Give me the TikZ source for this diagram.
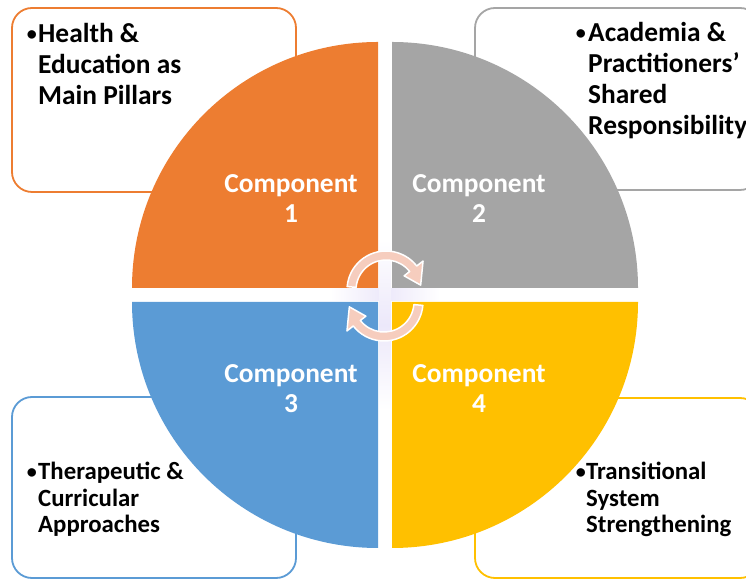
\documentclass[tikz,border=0pt]{standalone}
\usepackage{fontspec}
\setmainfont{Carlito}
\definecolor{qorange}{HTML}{ED7D31}
\definecolor{qgray}{HTML}{A5A5A5}
\definecolor{qblue}{HTML}{5B9BD5}
\definecolor{qyellow}{HTML}{FFC000}
\definecolor{cyclefill}{HTML}{F6CDBE}
\definecolor{glow}{HTML}{ECE8FA}
\begin{document}
\begin{tikzpicture}[x=1pt,y=1pt,
  infobox/.style={line width=1.8pt, rounded corners=20pt, fill=white},
  quadlabel/.style={text=white, font=\fontsize{27.4}{30}\selectfont\bfseries,
    align=center, inner sep=0pt, anchor=base},
  bigtext/.style={font=\fontsize{27.4}{31}\selectfont\bfseries, align=left,
    inner sep=0pt, anchor=base west},
  smalltext/.style={font=\fontsize{24.8}{26.5}\selectfont\bfseries, align=left,
    inner sep=0pt, anchor=base west},
  listdot/.style={font=\fontsize{20}{20}\selectfont\bfseries, inner sep=0pt, anchor=base east},
  cyclearrow/.style={fill=cyclefill, draw=white, line width=1.5pt, line join=round}
]
\useasboundingbox (0,0) rectangle (746,580);
\clip (0,0) rectangle (746,580);

% outlined text panels in the four corners
\draw[infobox, draw=qorange] (12,388) rectangle (296,572);
\draw[infobox, draw=qgray]   (475,390) rectangle (760,572);
\draw[infobox, draw=qblue]   (12,2) rectangle (296,183);
\draw[infobox, draw=qyellow] (475,2) rectangle (760,182);

% four quarter discs
\fill[qorange] (378,292) -- ++(180:246) arc[start angle=180, end angle=90, radius=246] -- cycle;
\fill[qgray]   (392,292) -- ++(0:246)   arc[start angle=0,   end angle=90, radius=246] -- cycle;
\fill[qblue]   (378,278) -- ++(180:246) arc[start angle=180, end angle=270, radius=246] -- cycle;
\fill[qyellow] (392,278) -- ++(0:246)   arc[start angle=0,   end angle=-90, radius=246] -- cycle;

% soft glow along the central gaps
\shade[left color=white, right color=white, middle color=glow] (330,279) rectangle (440,291);
\shade[top color=white, bottom color=white, middle color=glow] (379,170) rectangle (391,340);

% circular arrows in the middle
\begin{scope}[shift={(386,290)}]
  \draw[cyclearrow] (175:39) arc[start angle=175, end angle=38, radius=39]
    -- (38:47) -- (8:35) -- (38:23) -- (38:30)
    arc[start angle=38, end angle=175, radius=30] -- cycle;
\end{scope}
\begin{scope}[shift={(384,278)}]
  \draw[cyclearrow] (-5:39) arc[start angle=-5, end angle=-142, radius=39]
    -- (-142:47) -- (-172:35) -- (-142:23) -- (-142:30)
    arc[start angle=-142, end angle=-5, radius=30] -- cycle;
\end{scope}

% quadrant labels (anchored at the baseline of their last line)
\node[quadlabel] (c1) at (291,357) {Component\\1};
\node[quadlabel] (c2) at (479,357) {Component\\2};
\node[quadlabel] (c3) at (291,167) {Component\\3};
\node[quadlabel] (c4) at (479,167) {Component\\4};

% panel texts (anchored at the baseline of their last line)
\node[listdot] (d1) at (37,539) {\textbullet};
\node[bigtext] (t1) at (38,475) {Health \&\\Education as\\Main Pillars};
\node[listdot] (d2) at (586,540) {\textbullet};
\node[bigtext] (t2) at (588,445) {Academia \&\\Practitioners’\\Shared\\Responsibility};
\node[listdot] (d3) at (37,101) {\textbullet};
\node[smalltext] (t3) at (38,47) {Therapeutic \&\\Curricular\\Approaches};
\node[listdot] (d4) at (586,101) {\textbullet};
\node[smalltext] (t4) at (586,47) {Transitional\\System\\Strengthening};
\end{tikzpicture}
\end{document}
